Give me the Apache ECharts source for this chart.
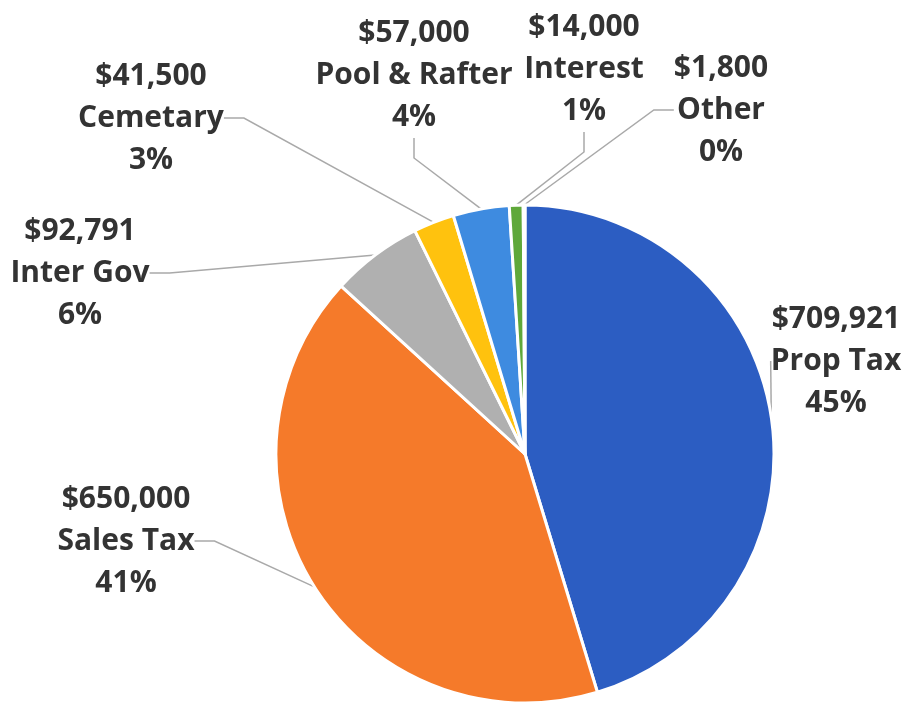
<!DOCTYPE html>
<html>
<head>
<meta charset="utf-8">
<script src="https://cdn.jsdelivr.net/npm/echarts@6/dist/echarts.min.js"></script>
<style>
  html, body { margin: 0; padding: 0; background: #fff; }
  #chart { width: 906px; height: 706px; }
</style>
</head>
<body>
<div id="chart"></div>
<script>
// Revenue sources, in budget order (clockwise from 12 o'clock)
const categories = ['Prop Tax', 'Sales Tax', 'Inter Gov', 'Cemetary', 'Pool & Rafter', 'Interest', 'Other'];
const amounts = [709921, 650000, 92791, 41500, 57000, 14000, 1800];
const sliceColors = ['#2C5DC2', '#F57A2A', '#B0B0B0', '#FFC20E', '#3E8BE0', '#5FA83A', '#24457F'];

// Where each three-line label block sits (centre of the block, px)
const labelSpots = {
  'Prop Tax':      [836, 361],
  'Sales Tax':     [126, 541],
  'Inter Gov':     [80, 273],
  'Cemetary':      [151, 118],
  'Pool & Rafter': [414, 75],
  'Interest':      [584, 69],
  'Other':         [721, 110]
};

const money = v => '$' + v.toLocaleString('en-US');

const chart = echarts.init(document.getElementById('chart'), null, { renderer: 'canvas' });

chart.setOption({
  backgroundColor: '#ffffff',
  animation: false,
  series: [{
    type: 'pie',
    center: [525, 454],
    radius: 249,
    startAngle: 90,
    clockwise: true,
    percentPrecision: 0,
    avoidLabelOverlap: false,
    data: categories.map((name, i) => ({
      name: name,
      value: amounts[i],
      itemStyle: { color: sliceColors[i] }
    })),
    itemStyle: { borderColor: '#ffffff', borderWidth: 3 },
    label: {
      show: true,
      position: 'outside',
      formatter: p => money(p.value) + '\n' + p.name + '\n' + p.percent + '%',
      fontFamily: '"Open Sans", "Noto Sans", sans-serif',
      fontWeight: 'bold',
      fontSize: 30,
      lineHeight: 42,
      color: '#333333',
      align: 'center'
    },
    labelLine: {
      show: true,
      length: 20,
      length2: 20,
      lineStyle: { color: '#A9A9A9', width: 1.5 }
    },
    labelLayout: function (params) {
      const spot = labelSpots[categories[params.dataIndex]];
      return {
        x: spot[0],
        y: spot[1],
        align: 'center',
        verticalAlign: 'middle'
      };
    },
    emphasis: { disabled: true }
  }]
});
</script>
</body>
</html>
